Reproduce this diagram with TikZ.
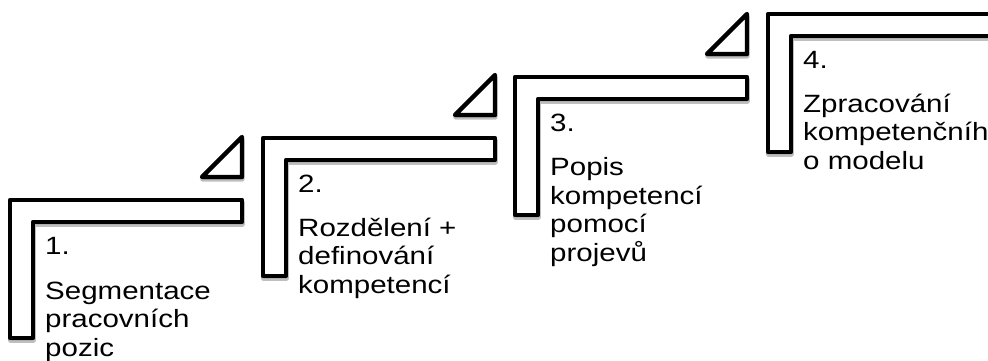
\documentclass[tikz,border=0pt]{standalone}
\usepackage{fontspec}
\setmainfont{Liberation Sans}[FakeStretch=1.18]
\usetikzlibrary{shadows}

% One stair step: L-shaped bracket, small triangle above its right end, and its label.
% #1 = name, #2/#3 = outer top-left corner, #4 = label text
\newcommand\stairstep[4]{%
  \draw[bracket] (#2,#3) -- ++(232,0) -- ++(0,22) -- ++(-209,0) -- ++(0,116) -- ++(-23,0) -- cycle;
  \draw[bracket] (#2+232,#3-23) -- ++(-40,0) -- ++(40,-40) -- cycle;
  \node[steplabel] (#1) at (#2+35,#3+37) {#4};
}

\begin{document}
\begin{tikzpicture}[x=1pt,y=-1pt,
  bracket/.style={draw=black, fill=white, line width=4.4pt, line join=round,
    drop shadow={shadow xshift=0.3pt, shadow yshift=-2.4pt, opacity=0.25,
      fill=black, draw=black, line width=4.4pt, line join=round}},
  steplabel/.style={anchor=north west, align=left, inner sep=0pt,
    font=\fontsize{25}{28.5}\selectfont}]
  \useasboundingbox (0,0) rectangle (988,360);
  \clip (0,0) rectangle (988,360);

  \stairstep{s1}{10}{200}{1.\\[16.5pt]Segmentace\\pracovních\\pozic}
  \stairstep{s2}{263}{138}{2.\\[15pt]Rozdělení +\\definování\\kompetencí}
  \stairstep{s3}{515}{77}{3.\\[15.5pt]Popis\\kompetencí\\pomocí\\projevů}
  \stairstep{s4}{768}{14}{4.\\[15.5pt]Zpracování\\kompetenčníh\\o modelu}
\end{tikzpicture}
\end{document}
